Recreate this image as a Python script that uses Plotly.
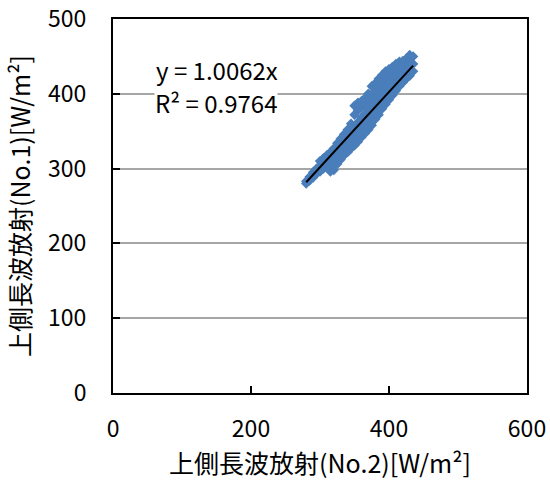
import plotly.graph_objects as go

# Upward longwave radiation: sensor No.2 (x) vs sensor No.1 (y), W/m²
x_no2 = [
    280, 280, 285, 285, 290, 290, 290, 295, 295,
    300, 300, 300, 305, 305, 305, 310, 310, 310,
    315, 315, 315, 315, 320, 320, 320, 320,
    325, 325, 325, 325, 330, 330, 330, 330,
    335, 335, 335, 335, 340, 340, 340, 340,
    345, 345, 345, 345, 350, 350, 350, 350, 350,
    355, 355, 355, 355, 355, 360, 360, 360, 360, 360,
    365, 365, 365, 365, 365, 370, 370, 370, 370, 370,
    375, 375, 375, 375, 375, 380, 380, 380, 380, 380,
    385, 385, 385, 385, 385, 390, 390, 390, 390, 390,
    395, 395, 395, 395, 395, 400, 400, 400, 400, 400,
    405, 405, 405, 405, 405, 410, 410, 410, 410, 410,
    415, 415, 415, 415, 415, 420, 420, 420, 420,
    425, 425, 425, 425, 430, 430, 430, 430, 435, 435, 435,
]
y_no1 = [
    280, 283, 284, 289, 288, 292, 295, 293, 300,
    296, 304, 310, 300, 309, 314, 303, 312, 318,
    296, 305, 316, 322, 298, 310, 320, 327,
    306, 316, 326, 334, 312, 322, 332, 340,
    318, 328, 338, 346, 322, 333, 344, 352,
    327, 338, 350, 360, 331, 344, 356, 372, 384,
    336, 350, 362, 378, 388, 342, 355, 368, 382, 390,
    347, 360, 373, 386, 394, 352, 366, 380, 392, 400,
    358, 372, 386, 398, 410, 366, 378, 392, 404, 414,
    372, 384, 398, 410, 420, 380, 390, 402, 414, 425,
    386, 396, 408, 420, 430, 392, 402, 412, 424, 433,
    398, 408, 418, 428, 436, 404, 414, 424, 434, 440,
    410, 420, 430, 440, 443, 415, 425, 435, 444,
    420, 430, 440, 447, 424, 432, 444, 452, 430, 440, 450,
]

# Linear trendline through the origin
slope = 1.0062
r_squared = 0.9764
trend_x = [280, 435]
trend_y = [slope * v for v in trend_x]

x_ticks = [0, 200, 400, 600]
y_ticks = [0, 100, 200, 300, 400, 500]

font_family = "Noto Sans CJK JP, Noto Sans, sans-serif"

fig = go.Figure()
fig.add_trace(go.Scatter(
    x=x_no2, y=y_no1, mode="markers",
    marker=dict(symbol="diamond", size=8, color="#4a7ebb", line=dict(width=0)),
    showlegend=False, hoverinfo="x+y",
))
fig.add_trace(go.Scatter(
    x=trend_x, y=trend_y, mode="lines",
    line=dict(color="black", width=2),
    showlegend=False, hoverinfo="skip",
))

# Trendline R² (on a white box over the gridline), then the equation above it
label_font = dict(family=font_family, size=24, color="black")
fig.add_annotation(
    x=60, y=389, xref="x", yref="y",
    text=f"R² = {r_squared:.4f}",
    showarrow=False, xanchor="left", yanchor="middle",
    font=label_font, bgcolor="white", borderpad=0,
)
fig.add_annotation(
    x=60, y=432, xref="x", yref="y",
    text=f"y = {slope:.4f}x",
    showarrow=False, xanchor="left", yanchor="middle",
    font=label_font,
)

axis_common = dict(
    zeroline=False, automargin=False,
    ticks="inside", ticklen=7, tickwidth=1.5, tickcolor="black",
    showline=True, linecolor="black", linewidth=2, mirror=True,
    tickfont=dict(size=23),
)

fig.update_layout(
    template="none",
    width=550, height=485,
    margin=dict(l=113, r=23, t=19, b=92),
    paper_bgcolor="white", plot_bgcolor="white",
    font=dict(family=font_family, size=20, color="black"),
    xaxis=dict(
        range=[0, 600], tickvals=x_ticks, showgrid=False,
        ticklabelstandoff=14,
        title=dict(text="上側長波放射(No.2)[W/m²]", standoff=10,
                   font=dict(size=25)),
        **axis_common,
    ),
    yaxis=dict(
        range=[0, 500], tickvals=y_ticks, showgrid=True,
        gridcolor="#a6a6a6", gridwidth=1.5,
        ticklabelstandoff=20,
        title=dict(text="上側長波放射(No.1)[W/m²]", standoff=10,
                   font=dict(size=25)),
        **axis_common,
    ),
)

fig.write_html("out.html")
